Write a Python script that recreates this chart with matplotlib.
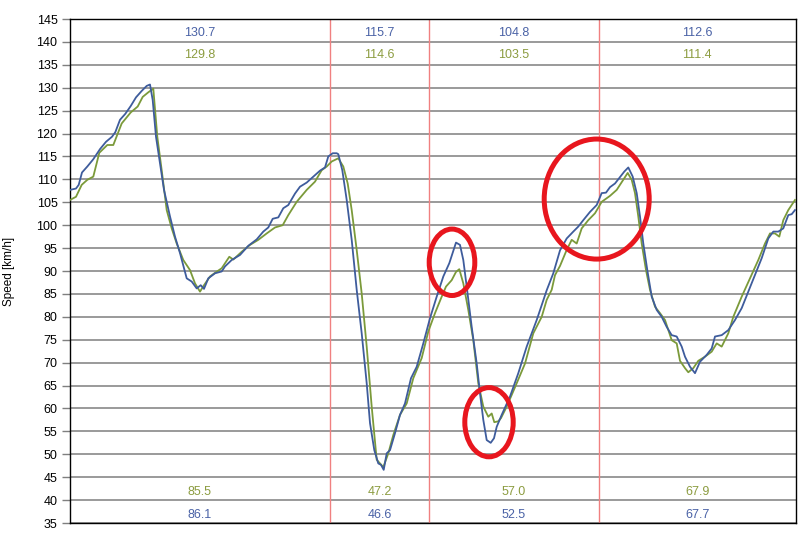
import matplotlib.pyplot as plt
from matplotlib.patches import Ellipse

# distance along the lap (no units shown on the chart), speed in km/h
blue_dist = [
    0, 6, 8.7, 12, 17.3, 23.3, 30, 36, 42, 45.3,
    50, 55.3, 60.7, 66, 71.7, 76.7, 80, 82.7, 86, 90,
    94, 100, 105, 110, 116.7, 121.7, 126.7, 130.7, 134, 138.3,
    145, 151.7, 155, 161.7, 170, 178.3, 186.7, 193.3, 198.3, 202.7,
    208.3, 213.3, 218.3, 225, 230, 236.7, 243.3, 250, 255, 258.3,
    262.7, 266.7, 268.3, 272.3, 276.7, 281.7, 286.7, 291.7, 296.7, 300,
    304.3, 308.3, 311, 313.7, 316.7, 320, 325, 330, 335, 341,
    346.7, 353.3, 360, 366.7, 373.3, 379.3, 386, 390, 393.3, 396.7,
    401.7, 406.7, 410, 413.3, 416.7, 420.7, 424, 426.7, 431.7, 440,
    448.3, 456.7, 466.7, 476.7, 483.3, 490, 496.7, 503.3, 508.3, 513.3,
    520, 526.7, 531.7, 536, 540, 545, 550, 554.3, 558.3, 562.7,
    566.7, 570, 573.3, 577.3, 581.7, 586.7, 591.7, 596.7, 601.7, 606.7,
    611.7, 615, 620, 625, 630, 636.7, 641.7, 645, 651.7, 658.3,
    665, 671.7, 678.3, 685, 691.7, 698.3, 703.3, 708.3, 713.3, 718.3,
    721.7, 725,
]
blue_speed = [
    107.7, 108.0, 108.8, 111.5, 112.8, 114.4, 116.6, 118.2, 119.3, 120.3,
    123.0, 124.3, 126.0, 127.9, 129.3, 130.4, 130.7, 127.3, 119.3, 113.5,
    107.7, 101.9, 97.5, 93.9, 88.4, 87.7, 86.2, 86.9, 86.1, 88.4,
    89.5, 89.9, 91.0, 92.4, 93.5, 95.5, 96.9, 98.6, 99.5, 101.4,
    101.7, 103.7, 104.4, 106.9, 108.4, 109.3, 110.6, 111.9, 112.6, 115.0,
    115.7, 115.7, 115.5, 112.0, 105.5, 96.8, 85.9, 76.4, 65.5, 56.8,
    50.9, 48.0, 47.7, 46.6, 50.2, 50.9, 54.6, 58.6, 61.1, 66.6,
    69.1, 74.2, 79.7, 84.4, 88.8, 91.7, 96.2, 95.7, 92.4, 86.6,
    77.8, 69.8, 63.3, 57.5, 53.1, 52.5, 53.5, 56.0, 58.6, 62.6,
    67.7, 73.5, 79.3, 85.8, 89.5, 94.5, 97.1, 98.6, 99.7, 101.1,
    102.9, 104.4, 107.0, 107.1, 108.3, 109.1, 110.5, 111.7, 112.6, 110.6,
    107.0, 101.9, 96.0, 90.2, 84.4, 81.5, 80.0, 77.8, 76.0, 75.7,
    73.5, 71.3, 69.1, 67.7, 70.2, 71.7, 73.1, 75.7, 76.0, 77.1,
    79.3, 81.9, 85.5, 89.1, 92.8, 97.1, 98.6, 98.6, 99.3, 102.2,
    102.4, 103.3,
]

green_dist = [
    0, 6, 11.7, 17.3, 23.3, 29.3, 37.3, 43.3, 51.7, 60.7,
    67.7, 72.7, 78.3, 83.3, 87.3, 91.7, 96.7, 101.7, 106.7, 113.3,
    120, 125, 130, 134, 140, 145, 151.7, 159.3, 163.3, 171.7,
    180, 188.3, 196.7, 205, 212.7, 218.3, 226.7, 236.7, 245, 251.7,
    256.7, 261.7, 268.3, 273.3, 277.7, 281.7, 286.7, 291.7, 296.7, 301.7,
    306.7, 310, 313.3, 318.3, 323.3, 330, 336.7, 343.3, 351.7, 358.3,
    365, 371.7, 376, 381.7, 386, 389.3, 393.3, 398.3, 403.3, 408.3,
    413.3, 418.3, 421.7, 424.3, 428.3, 431, 436.7, 446.7, 455, 463.3,
    471.7, 476.7, 481.7, 485, 490, 496.7, 501.7, 506.7, 511.7, 518.3,
    525, 531.7, 540, 546.7, 553.3, 557.7, 561.7, 565, 568.3, 571.7,
    576, 580, 585, 590, 595, 601.7, 606.7, 610, 615, 618.3,
    623.3, 628.3, 635, 641.7, 646.7, 651.7, 658.3, 663.3, 671.7, 680,
    688.3, 695, 700, 705, 709.3, 713.3, 718.3, 725,
]
green_speed = [
    105.5, 106.2, 108.8, 109.9, 110.6, 115.8, 117.5, 117.5, 122.2, 124.6,
    125.9, 128.0, 129.0, 129.8, 119.3, 112.0, 103.3, 99.3, 96.0, 92.4,
    90.2, 87.3, 85.5, 86.9, 88.8, 89.6, 90.6, 93.1, 92.5, 94.2,
    95.7, 96.8, 98.2, 99.5, 100.0, 102.2, 105.1, 107.7, 109.5, 112.0,
    112.8, 113.9, 114.6, 112.8, 109.1, 103.3, 94.6, 85.1, 73.5, 60.4,
    48.8, 48.0, 47.2, 50.2, 54.2, 58.6, 61.1, 66.6, 71.0, 76.8,
    80.8, 84.4, 86.6, 88.0, 89.8, 90.4, 87.3, 81.5, 74.9, 65.5,
    60.4, 58.2, 58.9, 57.0, 57.2, 57.9, 60.4, 65.5, 69.8, 76.4,
    80.0, 83.7, 85.9, 89.1, 91.1, 94.6, 96.8, 96.0, 99.3, 101.1,
    102.6, 105.1, 106.4, 107.7, 109.9, 111.4, 109.9, 107.0, 101.9, 96.0,
    90.2, 85.9, 82.2, 80.8, 79.3, 74.9, 74.2, 70.4, 68.8, 67.9,
    68.8, 70.4, 71.3, 72.4, 74.2, 73.5, 76.4, 80.0, 84.4, 88.4,
    92.4, 96.0, 98.2, 98.2, 97.5, 101.1, 103.3, 105.5,
]

# section splits and per-section max / min speeds
section_edges = [0, 260, 359.3, 528.7, 725.7]
blue_max = ["130.7", "115.7", "104.8", "112.6"]
green_max = ["129.8", "114.6", "103.5", "111.4"]
green_min = ["85.5", "47.2", "57.0", "67.9"]
blue_min = ["86.1", "46.6", "52.5", "67.7"]

# highlighted spots: (dist, speed, width, height)
circles = [(382, 91.9, 45.6, 14.5), (419, 57.0, 48.4, 15.1), (526.7, 105.7, 105, 26.2)]

BLUE = "#3e5c9c"
GREEN = "#7b9a3a"
BLUE_TXT = "#4a62a6"
GREEN_TXT = "#8c9c40"

plt.rcParams['font.family'] = ['Liberation Sans', 'DejaVu Sans']

fig = plt.figure(figsize=(8.07, 5.42), dpi=100)
ax = fig.add_axes([70 / 807, 1 - 523 / 542, 725.7 / 807, 504 / 542])

ax.set_xlim(section_edges[0], section_edges[-1])
ax.set_ylim(35, 145)
ax.set_yticks(range(35, 146, 5))
ax.set_xticks([])
ax.yaxis.grid(True, color="#7f7f7f", linewidth=1.1)
ax.set_axisbelow(True)
ax.tick_params(axis="y", length=6, width=1, color="#7f7f7f", labelsize=9, pad=3)
for sp in ax.spines.values():
    sp.set_color("black")
    sp.set_linewidth(1.0)

for edge in section_edges[1:-1]:
    ax.axvline(edge, color="#f08080", linewidth=1.0, zorder=1)

ax.plot(green_dist, green_speed, color=GREEN, linewidth=1.3, zorder=3)
ax.plot(blue_dist, blue_speed, color=BLUE, linewidth=1.3, zorder=4)

for i in range(len(blue_max)):
    mid = (section_edges[i] + section_edges[i + 1]) / 2
    ax.text(mid, 141.9, blue_max[i], color=BLUE_TXT, ha="center", va="center", fontsize=9)
    ax.text(mid, 137.1, green_max[i], color=GREEN_TXT, ha="center", va="center", fontsize=9)
    ax.text(mid, 41.8, green_min[i], color=GREEN_TXT, ha="center", va="center", fontsize=9)
    ax.text(mid, 36.8, blue_min[i], color=BLUE_TXT, ha="center", va="center", fontsize=9)

for cx, cy, w, h in circles:
    ax.add_patch(Ellipse((cx, cy), w, h, fill=False, edgecolor="#e8161e", linewidth=3.6, zorder=5))

ax.set_ylabel("Speed [km/h]", fontsize=8.5)
ax.yaxis.set_label_coords(-55 / 725.7, 0.5)

fig.savefig("out.png", dpi=100)
